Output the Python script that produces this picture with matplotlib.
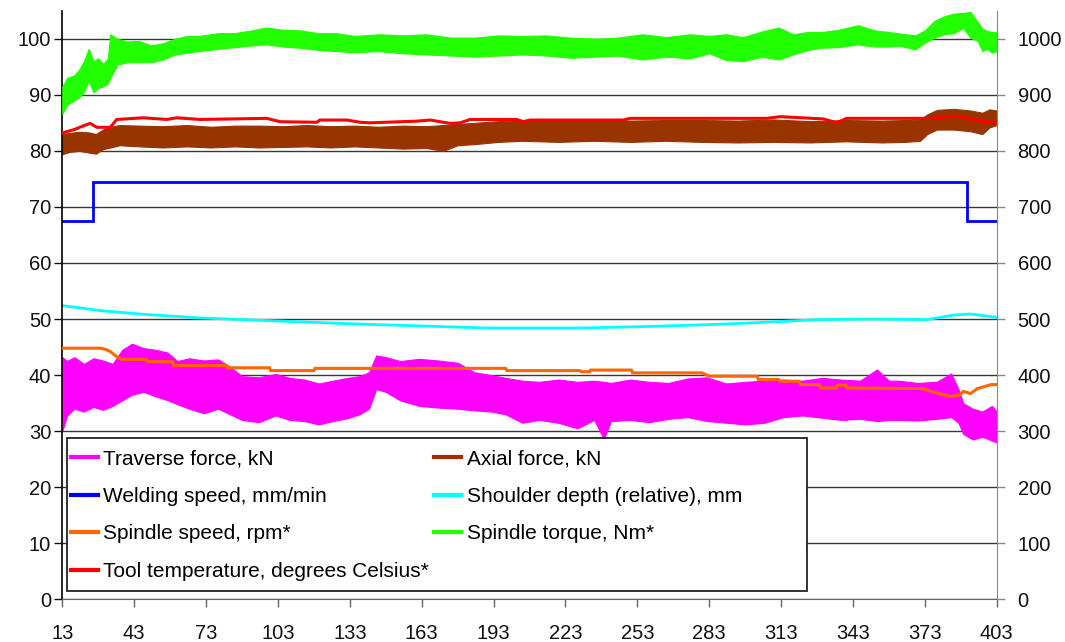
import matplotlib
matplotlib.use("Agg")
import matplotlib.pyplot as plt
from matplotlib.lines import Line2D
from matplotlib.patches import Rectangle

plt.rcParams['font.family'] = ['Liberation Sans', 'DejaVu Sans']

# ---- data -------------------------------------------------------------
x_ticks = [13, 43, 73, 103, 133, 163, 193, 223, 253, 283, 313, 343, 373, 403]

# noisy signals: (position, lower envelope, upper envelope)
traverse_force_kN = [
    (13, 30.0, 43.2), (15, 32.8, 42.5), (18, 34.0, 43.2), (22, 33.5, 42.0),
    (26, 34.3, 43.0), (30, 33.8, 42.6), (34, 34.5, 42.0), (38, 35.5, 44.5),
    (42, 36.5, 45.6), (47, 37.0, 44.8), (52, 36.2, 44.5), (57, 35.5, 44.0),
    (61, 34.8, 42.5), (66, 34.0, 43.0), (72, 33.2, 42.6), (78, 34.0, 42.8),
    (83, 33.0, 41.5), (88, 32.0, 39.8), (95, 31.6, 39.6), (102, 32.8, 40.2),
    (108, 32.0, 39.5), (114, 31.8, 39.2), (120, 31.2, 38.5), (126, 31.8, 39.0),
    (132, 32.3, 39.5), (137, 33.0, 39.8), (141, 34.0, 40.5), (144, 37.5, 43.5),
    (148, 37.0, 43.2), (154, 35.5, 42.5), (162, 34.5, 42.9), (170, 34.2, 42.6),
    (178, 34.0, 42.2), (185, 33.7, 40.5), (192, 33.5, 40.0), (198, 33.0, 39.5),
    (205, 31.5, 39.0), (212, 32.0, 38.8), (220, 31.5, 39.2), (228, 30.5, 38.8),
    (235, 32.0, 39.0), (239, 28.6, 38.8), (242, 31.8, 38.6), (250, 32.0, 39.2),
    (258, 31.6, 38.8), (266, 32.2, 38.6), (274, 32.5, 39.4), (282, 31.8, 39.6),
    (290, 31.5, 38.5), (298, 31.2, 38.8), (306, 31.5, 39.0), (314, 32.5, 39.2),
    (322, 32.8, 39.0), (330, 32.4, 39.5), (338, 32.0, 39.2), (346, 32.2, 39.0),
    (353, 31.8, 41.0), (358, 32.0, 39.0), (362, 32.0, 39.0), (370, 31.9, 38.6),
    (378, 32.2, 38.8), (384, 32.5, 40.3), (387, 31.5, 37.5), (389, 29.5, 35.0),
    (393, 28.5, 34.0), (397, 29.0, 33.5), (401, 28.3, 34.5), (403, 28.0, 33.5),
]

axial_force_kN = [
    (13, 79.4, 83.0), (16, 79.8, 83.2), (20, 80.0, 83.4), (24, 79.7, 83.3),
    (27, 79.5, 83.0), (30, 80.3, 83.8), (33, 80.6, 84.3), (37, 81.0, 84.6),
    (45, 80.8, 84.5), (55, 80.6, 84.4), (65, 80.8, 84.6), (75, 80.6, 84.3),
    (85, 80.8, 84.5), (95, 80.6, 84.5), (105, 80.7, 84.4), (115, 80.8, 84.6),
    (125, 80.6, 84.4), (135, 80.8, 84.5), (145, 80.6, 84.3), (155, 80.4, 84.5),
    (165, 80.5, 84.4), (172, 80.0, 84.6), (178, 81.0, 84.8), (185, 81.2, 85.0),
    (195, 81.6, 85.3), (205, 81.8, 85.5), (220, 81.6, 85.4), (235, 81.8, 85.6),
    (250, 81.6, 85.4), (265, 81.8, 85.5), (280, 81.6, 85.5), (295, 81.5, 85.4),
    (310, 81.6, 85.6), (325, 81.5, 85.3), (340, 81.7, 85.5), (355, 81.5, 85.4),
    (365, 81.6, 85.5), (371, 81.8, 85.6), (374, 83.0, 86.5), (378, 83.8, 87.3),
    (385, 83.8, 87.5), (392, 83.5, 87.2), (397, 83.0, 86.8), (400, 84.2, 87.4),
    (403, 84.6, 87.2),
]

spindle_torque_Nm = [
    (13, 866, 915), (15, 882, 930), (18, 890, 935), (20, 895, 945),
    (22, 905, 960), (24, 925, 982), (26, 904, 960), (28, 912, 965),
    (30, 915, 955), (32, 920, 965), (33, 930, 1008), (36, 954, 1000),
    (40, 958, 995), (45, 958, 996), (50, 958, 988), (55, 963, 992),
    (60, 972, 1000), (65, 975, 1005), (70, 978, 1005), (78, 982, 1010),
    (85, 985, 1010), (92, 988, 1015), (98, 990, 1020), (105, 986, 1016),
    (112, 984, 1015), (120, 980, 1010), (127, 978, 1010), (135, 976, 1005),
    (145, 978, 1008), (155, 974, 1006), (165, 972, 1008), (175, 970, 1002),
    (185, 968, 1002), (195, 970, 1006), (205, 972, 1005), (215, 970, 1006),
    (225, 966, 1002), (235, 968, 1000), (245, 970, 1002), (255, 963, 1008),
    (265, 968, 1003), (275, 965, 1008), (283, 974, 1005), (290, 962, 1008),
    (297, 960, 1003), (305, 968, 1013), (312, 963, 1020), (318, 972, 1008),
    (324, 980, 1012), (330, 984, 1012), (337, 985, 1016), (345, 990, 1024),
    (352, 986, 1015), (358, 986, 1012), (363, 987, 1009), (369, 981, 1006),
    (373, 993, 1015), (377, 1002, 1032), (381, 1008, 1040), (385, 1010, 1045),
    (389, 1019, 1046), (392, 1002, 1048), (395, 996, 1030), (397, 978, 1018),
    (399, 982, 1014), (401, 975, 1012), (403, 978, 1012),
]

# smooth / stepped signals: (position, value)
welding_speed = [(13, 67.5), (26, 67.5), (26, 74.5), (390.5, 74.5),
                 (390.5, 67.5), (403, 67.5)]

shoulder_depth = [
    (13, 52.4), (20, 52.0), (29, 51.5), (45, 50.9), (70, 50.2), (100, 49.7),
    (137, 49.1), (160, 48.8), (190, 48.4), (230, 48.4), (260, 48.7),
    (283, 49.0), (300, 49.3), (329, 49.9), (350, 50.0), (374, 49.9),
    (385, 50.7), (392, 50.9), (403, 50.3),
]

spindle_speed_rpm = [
    (13, 448), (28.8, 448), (31, 446), (33, 442), (36, 432), (37.8, 428),
    (48, 428), (48.5, 424), (59, 424), (59.5, 417), (81.5, 417), (82, 413),
    (99.5, 413), (100, 408), (118, 408), (118.5, 412), (198, 412),
    (198.5, 408), (229, 408), (229.5, 406), (233, 406), (233.5, 409),
    (250.5, 409), (251, 404), (280, 404), (281, 402), (283, 398), (303, 398),
    (303.5, 392), (312, 392), (312.5, 389), (320.5, 389), (321, 383),
    (329, 383), (329.5, 377), (336, 377), (336.5, 382), (340, 382),
    (340.5, 377), (372, 376), (375, 372), (378, 368), (383.5, 362),
    (387.5, 364), (389, 371), (392, 367), (394.9, 376), (400.7, 383),
    (403, 383),
]

tool_temperature_C = [
    (13, 832), (18, 838), (22, 845), (24.6, 849), (27.4, 842), (33, 842),
    (35.7, 856), (46.8, 859), (56.6, 856), (60.7, 859), (70.5, 856),
    (98.3, 858), (103.9, 852), (119.2, 851), (120.5, 855), (131.7, 855),
    (137.3, 851), (141.4, 850), (160.9, 853), (166.5, 855), (174.8, 849),
    (179, 850), (183.2, 856), (202.7, 856), (205.4, 852), (208.2, 855),
    (247.2, 855), (250, 858), (283.3, 858), (307, 858), (312.5, 861),
    (330.6, 857), (336.2, 850), (340.4, 858), (371, 858), (376.5, 858),
    (384.9, 862), (390.5, 859), (394.7, 854), (398.8, 852), (403, 850),
]

labels = {
    'traverse': 'Traverse force, kN',
    'axial': 'Axial force, kN',
    'welding': 'Welding speed, mm/min',
    'shoulder': 'Shoulder depth (relative), mm',
    'spindle': 'Spindle speed, rpm*',
    'torque': 'Spindle torque, Nm*',
    'temp': 'Tool temperature, degrees Celsius*',
}
colors = {
    'traverse': '#FF00FF', 'axial': '#993300', 'welding': '#0000FF',
    'shoulder': '#00FFFF', 'spindle': '#FF6600', 'torque': '#22FF00',
    'temp': '#FF0000',
}

# ---- figure -----------------------------------------------------------
fig = plt.figure(figsize=(10.65, 6.42), dpi=100)
ax = fig.add_axes([0.0585, 0.0665, 0.8774, 0.9168])
ax2 = ax.twinx()

ax.set_xlim(13, 403)
ax.set_ylim(0, 105)
ax2.set_ylim(0, 1050)


def band(axis, data, color):
    xs, lo, hi = zip(*data)
    axis.fill_between(xs, lo, hi, color=color, lw=0.8, edgecolor=color)


def line(axis, data, color, lw):
    xs, ys = zip(*data)
    axis.plot(xs, ys, color=color, lw=lw, solid_joinstyle='miter')


# primary axis series
band(ax, traverse_force_kN, colors['traverse'])
band(ax, axial_force_kN, colors['axial'])
line(ax, welding_speed, colors['welding'], 2.0)
line(ax, shoulder_depth, colors['shoulder'], 2.0)

# secondary axis series
line(ax2, spindle_speed_rpm, colors['spindle'], 2.2)
band(ax2, spindle_torque_Nm, colors['torque'])
line(ax2, tool_temperature_C, colors['temp'], 2.2)

# gridlines, ticks, spines
ax.set_yticks(range(0, 101, 10))
ax2.set_yticks(range(0, 1001, 100))
ax.set_xticks(x_ticks)
ax.set_axisbelow(True)
ax.yaxis.grid(True, color='#383838', lw=1.0)

ax.tick_params(axis='y', direction='out', length=6, width=1, pad=2,
               labelsize=14.5, colors='#111111')
ax.tick_params(axis='x', direction='out', length=6, width=1, pad=12,
               labelsize=14.5, colors='#111111', color='#666666')
ax2.tick_params(axis='y', direction='out', length=6, width=1, pad=9,
                labelsize=14.5, colors='#111111', color='#888888')

for a in (ax, ax2):
    a.spines['top'].set_visible(False)
ax.spines['left'].set_color('#000000')
ax.spines['left'].set_linewidth(1.2)
ax.spines['right'].set_visible(False)
ax.spines['bottom'].set_color('#666666')
ax2.spines['left'].set_visible(False)
ax2.spines['bottom'].set_visible(False)
ax2.spines['right'].set_color('#888888')

# legend box
box = Rectangle((0.0626, 0.0799), 0.6949, 0.2374, transform=fig.transFigure,
                facecolor='white', edgecolor='#222222', lw=1.3, zorder=4.5)
ax2.add_patch(box)

order = ['traverse', 'welding', 'spindle', 'temp', 'axial', 'shoulder', 'torque']
handles = [Line2D([], [], color=colors[k], lw=3) for k in order]
leg = ax2.legend(handles, [labels[k] for k in order], ncol=2,
                 loc='upper left', bbox_to_anchor=(0.0667, 0.3002),
                 bbox_transform=fig.transFigure, frameon=False,
                 fontsize=15, handlelength=1.3, handletextpad=0.25,
                 labelspacing=0.89, columnspacing=0.25,
                 borderpad=0, borderaxespad=0)
leg.set_zorder(5)

fig.savefig('out.png', dpi=100)
